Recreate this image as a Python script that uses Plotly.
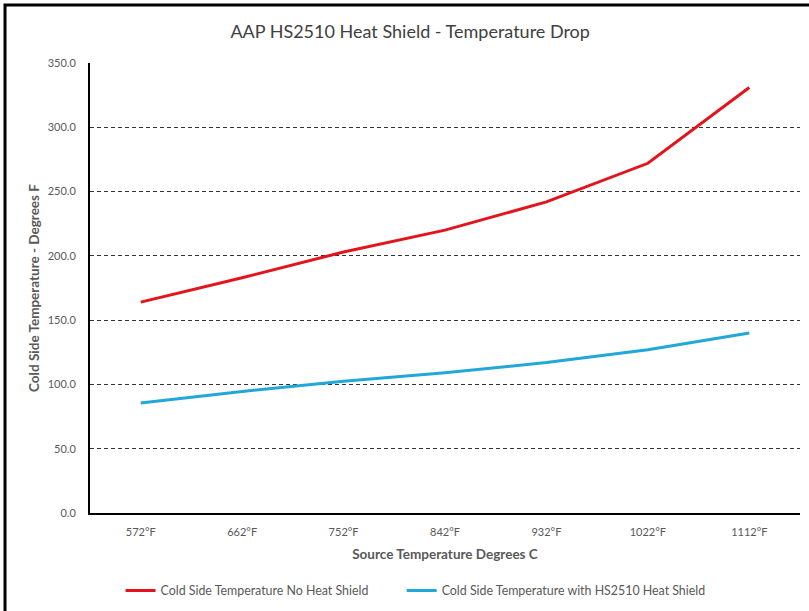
import plotly.graph_objects as go

categories = ["572°F", "662°F", "752°F", "842°F", "932°F", "1022°F", "1112°F"]
no_shield = [164, 183, 203, 220, 242, 272, 331]
with_shield = [85.5, 94.5, 102.5, 109, 117, 127, 140]
y_ticks = [0, 50, 100, 150, 200, 250, 300, 350]

FONT = "Lato, 'Open Sans', sans-serif"
GRAY = "#595959"

fig = go.Figure()
fig.add_trace(go.Scatter(x=categories, y=no_shield, mode="lines",
                         name="Cold Side Temperature No Heat Shield",
                         line=dict(color="#E3141C", width=3), legend="legend"))
fig.add_trace(go.Scatter(x=categories, y=with_shield, mode="lines",
                         name="Cold Side Temperature with HS2510 Heat Shield",
                         line=dict(color="#22A8D8", width=3), legend="legend2"))

legend_common = dict(orientation="h", xanchor="left",
                     yref="container", y=0.033, yanchor="middle",
                     font=dict(family=FONT, size=12.4, color=GRAY),
                     itemwidth=30, bgcolor="rgba(0,0,0,0)")

fig.update_layout(
    width=809, height=611,
    margin=dict(l=90, r=9, t=63, b=98, autoexpand=False),
    paper_bgcolor="white", plot_bgcolor="white",
    font=dict(family=FONT, color=GRAY, size=11),
    title=dict(text="AAP HS2510 Heat Shield - Temperature Drop",
               x=0.507, xanchor="center", y=0.948, yanchor="middle",
               font=dict(family=FONT, size=18, color="#404040")),
    showlegend=True,
    legend=dict(x=0.043, **legend_common),
    legend2=dict(x=0.439, **legend_common),
    shapes=[dict(type="rect", xref="paper", yref="paper",
                 x0=-0.1197, x1=1.2, y0=-0.5, y1=1.129,
                 line=dict(color="black", width=3), layer="below")],
)

fig.update_xaxes(
    type="category", range=[-0.5, 6.5],
    showline=True, linecolor="black", linewidth=2,
    showgrid=False, ticks="", ticklabelstandoff=8,
    tickfont=dict(family=FONT, size=11, color=GRAY),
    title=dict(text="<b>Source Temperature Degrees C</b>", standoff=12,
               font=dict(family=FONT, size=13.5, color=GRAY)),
)
fig.update_yaxes(
    range=[0, 350], tickvals=y_ticks, tickformat=".1f",
    showline=True, linecolor="black", linewidth=2,
    showgrid=True, gridcolor="#333333", gridwidth=1, griddash="4px,3px",
    zeroline=False, ticks="", ticklabelstandoff=10,
    tickfont=dict(family=FONT, size=11, color=GRAY),
    title=dict(text="<b>Cold Side Temperature - Degrees F</b>", standoff=5,
               font=dict(family=FONT, size=13.5, color=GRAY)),
)

fig.write_html("out.html", config={"displayModeBar": False},
               post_script="document.body.style.margin='0';document.body.style.overflow='hidden';")
